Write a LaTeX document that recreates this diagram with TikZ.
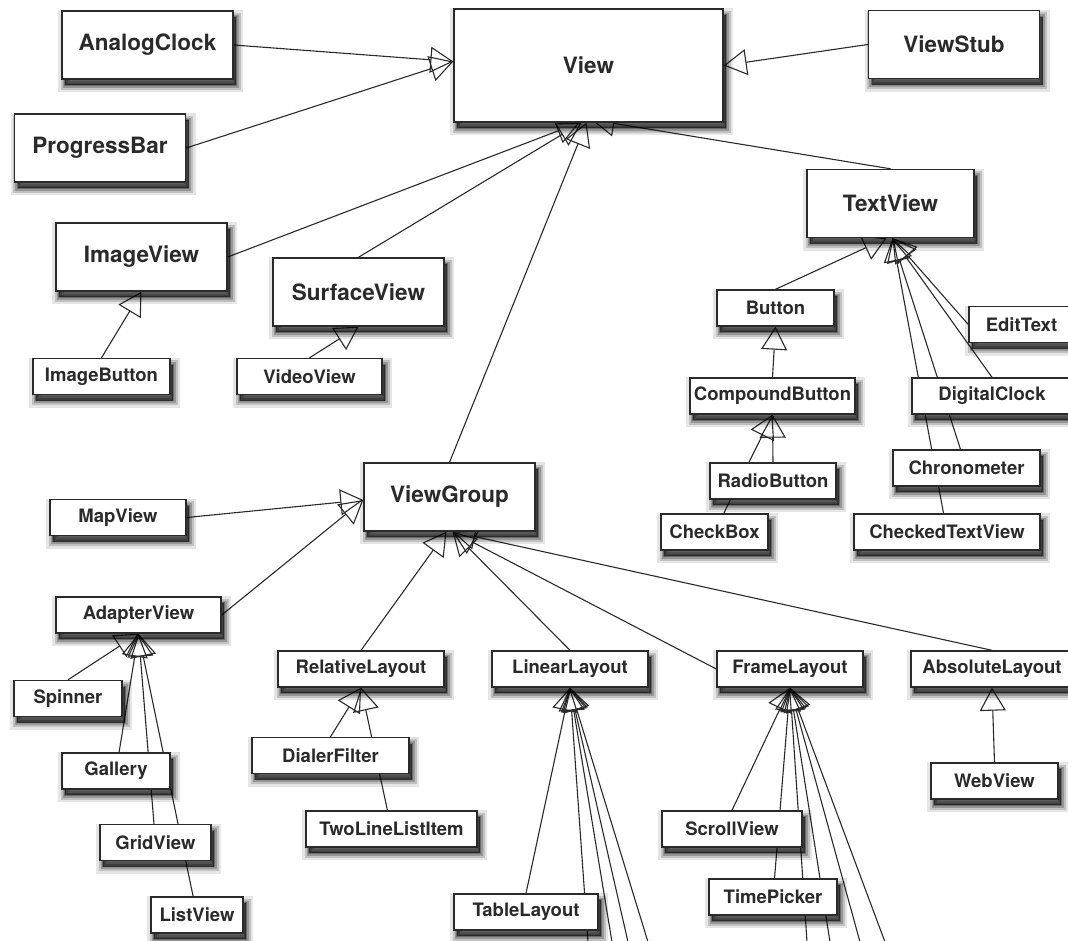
\documentclass[tikz,border=0pt]{standalone}
\usepackage{fontspec}
\setmainfont{TeX Gyre Heros}
\usetikzlibrary{arrows.meta,calc}
\pgfdeclarelayer{bg}
\pgfsetlayers{bg,main}
\definecolor{ink}{HTML}{2A2A2A}
\tikzset{
  box/.style={draw=ink, line width=1.4pt, fill=white, inner sep=0pt, text=ink,
    preaction={fill=black, draw=black, opacity=0.10, line width=14pt, transform canvas={xshift=3pt,yshift=-6pt}},
    preaction={fill=black, draw=black, opacity=0.16, line width=9pt, transform canvas={xshift=3pt,yshift=-6pt}},
    preaction={fill=black, draw=black, opacity=0.22, line width=5pt, transform canvas={xshift=3pt,yshift=-6pt}},
    preaction={fill=black, draw=black, opacity=0.30, line width=1.5pt, transform canvas={xshift=3pt,yshift=-6pt}}},
  big/.style={box, minimum width=171pt, minimum height=68pt, font=\fontsize{22.5}{27}\selectfont\bfseries},
  small/.style={box, minimum height=36pt, font=\fontsize{18.5}{22}\selectfont\bfseries},
  gen/.style={draw=ink, line width=1.1pt, -{Triangle[open, length=23pt, width=26pt]}},
}
\begin{document}
\begin{tikzpicture}[x=1pt, y=-1pt]
\useasboundingbox (0,0) rectangle (1068,940);
\clip (0,0) rectangle (1068,940);
% large nodes
\node[big, minimum width=269pt, minimum height=113pt] (View) at (588.5,65.5) {View};
\node[big] (AnalogClock) at (147.5,45) {AnalogClock};
\node[big] (ProgressBar) at (100,148) {ProgressBar};
\node[big] (ViewStub) at (954,44.5) {ViewStub};
\node[big] (ImageView) at (141.5,257) {ImageView};
\node[big] (SurfaceView) at (358.5,292) {SurfaceView};
\node[big, minimum width=167pt] (TextView) at (890.5,203.5) {TextView};
\node[big] (ViewGroup) at (449.5,497) {ViewGroup};
% small nodes
\node[small, minimum width=117pt] (Button) at (775.5,308) {Button};
\node[small, minimum width=165pt] (CompoundButton) at (772.5,396) {CompoundButton};
\node[small, minimum width=126pt] (RadioButton) at (773,481) {RadioButton};
\node[small, minimum width=107pt] (CheckBox) at (714.5,532) {CheckBox};
\node[small, minimum width=105pt] (EditText) at (1021.5,324.5) {EditText};
\node[small, minimum width=160pt] (DigitalClock) at (992,396) {DigitalClock};
\node[small, minimum width=147pt] (Chronometer) at (966.5,468) {Chronometer};
\node[small, minimum width=186pt] (CheckedTextView) at (947,532) {CheckedTextView};
\node[small, minimum width=137pt] (ImageButton) at (101.5,376.5) {ImageButton};
\node[small, minimum width=145pt] (VideoView) at (309.5,376.5) {VideoView};
\node[small, minimum width=136pt] (MapView) at (118,517.5) {MapView};
\node[small, minimum width=165pt] (AdapterView) at (138.5,615) {AdapterView};
\node[small, minimum width=108pt] (Spinner) at (68,698.5) {Spinner};
\node[small, minimum width=108pt] (Gallery) at (116,771) {Gallery};
\node[small, minimum width=111pt] (GridView) at (155.5,842.5) {GridView};
\node[small, minimum width=92pt] (ListView) at (197,915) {ListView};
\node[small, minimum width=166pt] (RelativeLayout) at (361,669) {RelativeLayout};
\node[small, minimum width=157pt] (DialerFilter) at (330.5,755.5) {DialerFilter};
\node[small, minimum width=171pt] (TwoLineListItem) at (391.5,829) {TwoLineListItem};
\node[small, minimum width=156pt] (LinearLayout) at (570,669) {LinearLayout};
\node[small, minimum width=144pt] (TableLayout) at (526,912) {TableLayout};
\node[small, minimum width=146pt] (FrameLayout) at (790,669) {FrameLayout};
\node[small, minimum width=140pt] (ScrollView) at (732,829) {ScrollView};
\node[small, minimum width=128pt] (TimePicker) at (773,897) {TimePicker};
\node[small, minimum width=162pt] (AbsoluteLayout) at (992,669) {AbsoluteLayout};
\node[small, minimum width=127pt] (WebView) at (994.5,781) {WebView};
% off-picture children
\coordinate (L1) at (588,942);
\coordinate (L2) at (612,942);
\coordinate (L3) at (628,942);
\coordinate (L4) at (648,942);
\coordinate (F1) at (807,942);
\coordinate (F2) at (830,942);
\coordinate (F3) at (860,942);
\coordinate (F4) at (885,942);
\begin{pgfonlayer}{bg}
% View
\draw[gen] (AnalogClock.east) -- ($(View.west)+(0,-4)$);
\draw[gen] (ProgressBar.east) -- ($(View.west)+(0,-4)$);
\draw[gen] (ViewStub.west) -- (View.east);
\draw[gen] (ImageView.east) -- ($(View.south)+(-9,0)$);
\draw[gen] (SurfaceView.north) -- ($(View.south)+(-7,0)$);
\draw[gen] (ViewGroup.north) -- ($(View.south)+(-2,0)$);
\draw[gen] (TextView.north) -- ($(View.south)+(3,-3)$);
% TextView
\draw[gen] (Button.north) -- ($(TextView.south)+(-4,0)$);
\draw[gen] (EditText.west) -- ($(TextView.south)+(2,0)$);
\draw[gen] (DigitalClock.north) -- ($(TextView.south)+(2,0)$);
\draw[gen] (Chronometer.center) -- ($(TextView.south)+(2,0)$);
\draw[gen] (CheckedTextView.center) -- ($(TextView.south)+(2,0)$);
\draw[gen] (CompoundButton.north) -- (Button.south);
\draw[gen] (RadioButton.north) -- (CompoundButton.south);
\draw[gen] (CheckBox.center) -- (CompoundButton.south);
% ImageView, SurfaceView
\draw[gen] (ImageButton.north) -- (ImageView.south);
\draw[gen] (VideoView.north) -- (SurfaceView.south);
% ViewGroup
\draw[gen] (MapView.east) -- ($(ViewGroup.west)+(0,3)$);
\draw[gen] (AdapterView.east) -- ($(ViewGroup.west)+(0,3)$);
\draw[gen] (RelativeLayout.north) -- ($(ViewGroup.south)+(-3,0)$);
\draw[gen] (LinearLayout.north) -- ($(ViewGroup.south)+(3,0)$);
\draw[gen] (FrameLayout.west) -- ($(ViewGroup.south)+(3,0)$);
\draw[gen] (AbsoluteLayout.north) -- ($(ViewGroup.south)+(3,0)$);
% AdapterView
\draw[gen] (Spinner.north) -- (AdapterView.south);
\draw[gen] (Gallery.center) -- (AdapterView.south);
\draw[gen] (GridView.center) -- (AdapterView.south);
\draw[gen] (ListView.center) -- (AdapterView.south);
% RelativeLayout
\draw[gen] (DialerFilter.north) -- (RelativeLayout.south);
\draw[gen] (TwoLineListItem.center) -- (RelativeLayout.south);
% LinearLayout
\draw[gen] (TableLayout.north) -- (LinearLayout.south);
\foreach \c in {L1,L2,L3,L4} \draw[gen] (\c) -- (LinearLayout.south);
% FrameLayout
\draw[gen] (ScrollView.north) -- (FrameLayout.south);
\draw[gen] (TimePicker.center) -- (FrameLayout.south);
\foreach \c in {F1,F2,F3,F4} \draw[gen] (\c) -- (FrameLayout.south);
% AbsoluteLayout
\draw[gen] (WebView.north) -- (AbsoluteLayout.south);
\end{pgfonlayer}
\end{tikzpicture}
\end{document}
